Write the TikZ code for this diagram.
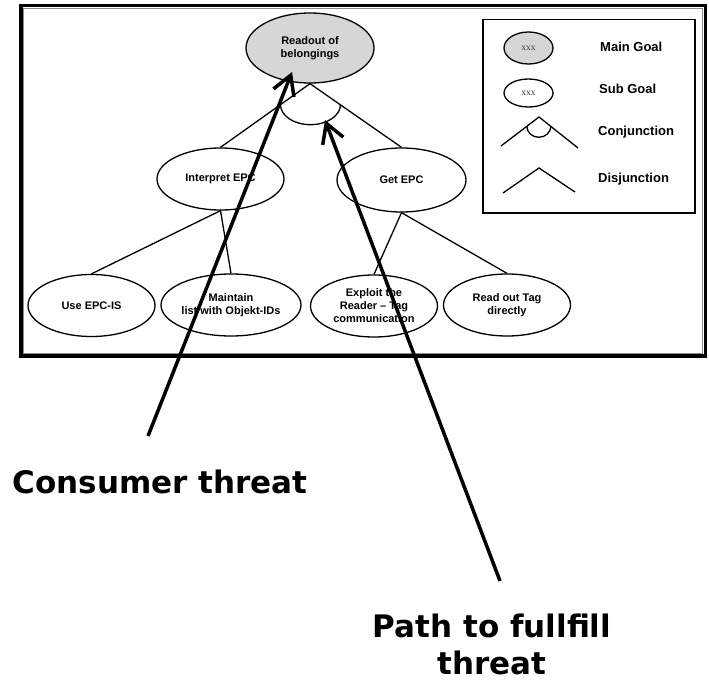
\documentclass[tikz,border=0pt]{standalone}
\usepackage{fontspec}
\setmainfont{Liberation Sans}
\newfontfamily\capfont{DejaVu Sans}
\newfontfamily\serfont{Liberation Serif}
\usetikzlibrary{shapes.geometric,arrows.meta,calc}
\newcommand{\nodefont}  {\fontsize{11}{13}\selectfont\bfseries}
\newcommand{\legendfont}{\fontsize{13}{15}\selectfont\bfseries}
\newcommand{\keyfont}   {\serfont\fontsize{9.5}{10}\selectfont}

\begin{document}
\begin{tikzpicture}[x=1pt,y=-1pt,
    goal/.style={ellipse,draw,line width=1.3pt,inner sep=0pt,
      minimum width=127pt,minimum height=62pt,align=center,font=\nodefont},
    topgoal/.style={goal,fill=black!16,minimum width=128pt,minimum height=70pt},
    keygoal/.style={ellipse,draw,line width=1.3pt,inner sep=0pt,
      minimum width=49pt,font=\keyfont,text=black!75},
    keytext/.style={anchor=west,inner sep=0pt,font=\legendfont},
    edge/.style={line width=1.3pt},
    threat/.style={line width=3.5pt,-{Straight Barb[length=19pt,width=22pt]}},
    caption/.style={inner sep=0pt,align=center,
      font=\capfont\bfseries\fontsize{31}{37}\selectfont}]
      \useasboundingbox (0,0) rectangle (709,682);
      % frame
      \draw[line width=3.5pt] (21,5.5) rectangle (705.5,356);
      \draw[black!45,line width=1.2pt] (23.8,8.3) rectangle (702.7,353.2);
      % tree
      \node[topgoal] (readout) at (310,48) {Readout of\\belongings};
      \node[goal] (interpret) at (220.5,179) {Interpret EPC};
      \node[goal,minimum width=129pt,minimum height=64pt] (getepc) at (401.5,180) {Get EPC};
      \node[goal] (useis) at (91.5,305.5) {Use EPC-IS};
      \node[goal] (maintain) at (231,305) {Maintain\\list with Objekt-IDs};
      \node[goal] (exploit) at (374,306) {Exploit the\\Reader -- Tag\\communication};
      \node[goal] (readtag) at (507,305) {Read out Tag\\directly};
      \draw[edge] (interpret.north) -- (readout.south) -- (getepc.north);
      \draw[edge] ($(readout.south)!0.33!(interpret.north)$)
        arc[start angle=180,end angle=0,x radius=30,y radius=20];
      \draw[edge] (useis.north) -- (interpret.south) -- (maintain.north);
      \draw[edge] (exploit.north) -- (getepc.south) -- (readtag.north);
      % legend
      \draw[line width=1.3pt] (483,19.5) rectangle (695,213);
      \node[keygoal,fill=black!16,minimum height=32pt] (keymain) at (528.5,48) {xxx};
      \node[keygoal,minimum height=28pt] (keysub) at (528.5,93) {xxx};
      \coordinate (conjl) at (501,146);
      \coordinate (conjtop) at (539,117);
      \coordinate (conjr) at (578,148);
      \draw[edge] (conjl) -- (conjtop) -- (conjr);
      \draw[edge] ($(conjtop)!0.32!(conjl)$)
        arc[start angle=180,end angle=0,x radius=12,y radius=11];
      \coordinate (disjl) at (503,193);
      \coordinate (disjtop) at (539,168);
      \coordinate (disjr) at (575,192);
      \draw[edge] (disjl) -- (disjtop) -- (disjr);
      \node[keytext] (keymaintext) at (600,47) {Main Goal};
      \node[keytext] (keysubtext) at (599,89) {Sub Goal};
      \node[keytext] (keyconjtext) at (598,132) {Conjunction};
      \node[keytext] (keydisjtext) at (598,179) {Disjunction};
      % threats
      \coordinate (ctail) at (148,436);
      \coordinate (chead) at (292,72);
      \coordinate (ptail) at (500,581);
      \coordinate (phead) at (325,120);
      \draw[threat] (ctail) -- (chead);
      \draw[threat] (ptail) -- (phead);
      \node[caption,anchor=base] (consumer) at (160,493) {Consumer threat};
      \node[caption,anchor=north] (pathtext) at (492,614) {Path to fullfill\\threat};
\end{tikzpicture}
\end{document}
